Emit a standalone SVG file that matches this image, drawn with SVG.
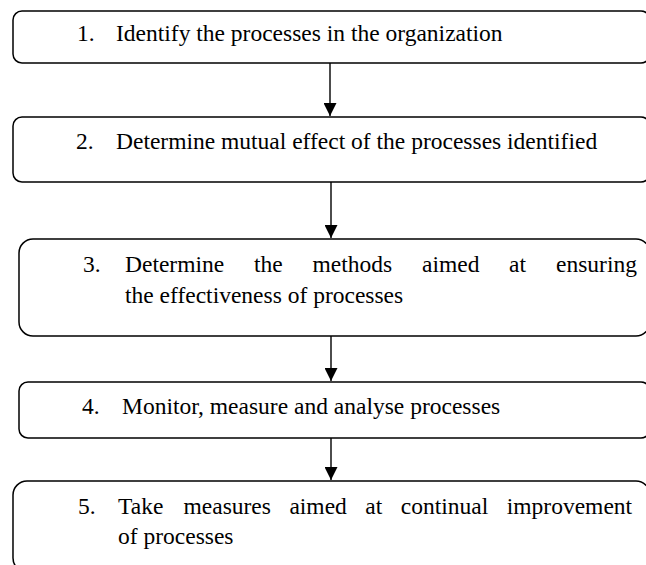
<svg xmlns="http://www.w3.org/2000/svg" width="646" height="565" viewBox="0 0 646 565">
<style>
.box{fill:#fff;stroke:#000;stroke-width:1.5}
.t{font-family:"Liberation Serif","Times New Roman",serif;font-size:23.5px;fill:#000}
.c{stroke:#000;stroke-width:1.4;fill:none}
</style>
<defs>
<marker id="ah" markerUnits="userSpaceOnUse" markerWidth="13" markerHeight="13" refX="13" refY="6.5" orient="auto">
<path d="M0,0 L13,6.5 L0,13 z" fill="#000"/>
</marker>
</defs>
<rect width="646" height="565" fill="#fff"/>
<g id="connectors">
<line class="c" x1="330" y1="63" x2="330" y2="116" marker-end="url(#ah)"/>
<line class="c" x1="331" y1="182" x2="331" y2="238" marker-end="url(#ah)"/>
<line class="c" x1="331" y1="336" x2="331" y2="381" marker-end="url(#ah)"/>
<line class="c" x1="331" y1="438" x2="331" y2="480" marker-end="url(#ah)"/>
</g>
<g id="n1">
<rect class="box" x="13" y="11" width="637" height="52" rx="9"/>
<text class="t" x="77" y="41">1.</text>
<text class="t" x="116" y="41">Identify the processes in the organization</text>
</g>
<g id="n2">
<rect class="box" x="13" y="117" width="637" height="65" rx="9"/>
<text class="t" x="76" y="149">2.</text>
<text class="t" x="116" y="149">Determine mutual effect of the processes identified</text>
</g>
<g id="n3">
<rect class="box" x="19" y="239" width="631" height="97" rx="14"/>
<text class="t" x="83" y="272">3.</text>
<text class="t" y="272"><tspan x="125">Determine</tspan><tspan x="254">the</tspan><tspan x="312.5">methods</tspan><tspan x="422">aimed</tspan><tspan x="509">at</tspan><tspan x="556">ensuring</tspan></text>
<text class="t" x="125" y="303">the effectiveness of processes</text>
</g>
<g id="n4">
<rect class="box" x="19" y="382" width="631" height="56" rx="9"/>
<text class="t" x="82" y="414">4.</text>
<text class="t" x="122" y="414">Monitor, measure and analyse processes</text>
</g>
<g id="n5">
<rect class="box" x="13" y="481" width="637" height="91" rx="14"/>
<text class="t" x="78" y="514">5.</text>
<text class="t" y="514"><tspan x="118">Take</tspan><tspan x="183.5">measures</tspan><tspan x="289.4">aimed</tspan><tspan x="365.3">at</tspan><tspan x="400.8">continual</tspan><tspan x="506.8">improvement</tspan></text>
<text class="t" x="118" y="544">of processes</text>
</g>
</svg>
